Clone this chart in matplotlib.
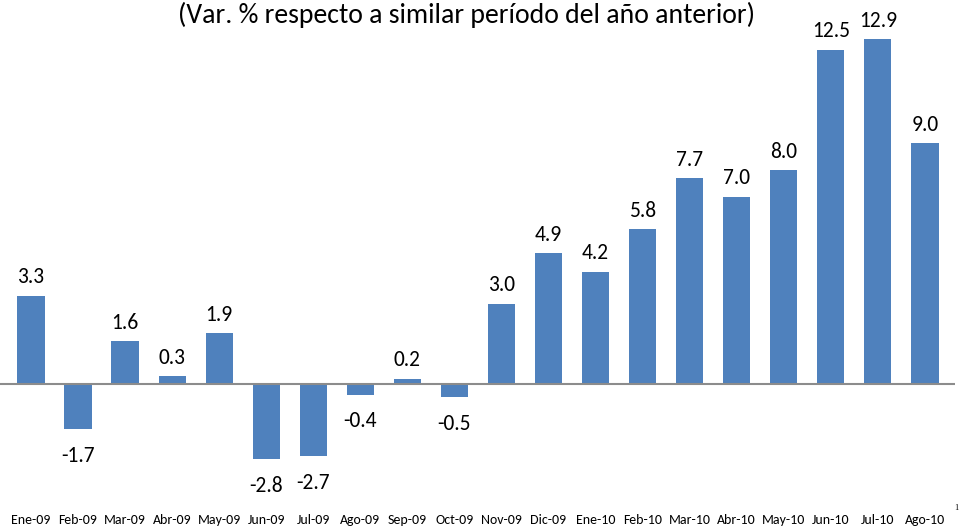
import matplotlib.pyplot as plt
from matplotlib import font_manager

meses = ['Ene-09', 'Feb-09', 'Mar-09', 'Abr-09', 'May-09', 'Jun-09', 'Jul-09',
         'Ago-09', 'Sep-09', 'Oct-09', 'Nov-09', 'Dic-09', 'Ene-10', 'Feb-10',
         'Mar-10', 'Abr-10', 'May-10', 'Jun-10', 'Jul-10', 'Ago-10']
variacion = [3.3, -1.7, 1.6, 0.3, 1.9, -2.8, -2.7, -0.4, 0.2, -0.5,
             3.0, 4.9, 4.2, 5.8, 7.7, 7.0, 8.0, 12.5, 12.9, 9.0]
titulo = '(Var. % respecto a similar período del año anterior)'

names = {f.name for f in font_manager.fontManager.ttflist}
fuente = 'Carlito' if 'Carlito' in names else 'Lato'
plt.rcParams['font.family'] = [fuente, 'DejaVu Sans']

fig = plt.figure(figsize=(9.59, 5.30), dpi=100)
ax = fig.add_axes([0, 0, 955 / 959, 1])
x = range(len(meses))
ax.bar(x, variacion, width=0.58, color='#4F81BD', zorder=2)
ax.axhline(0, color='#8c8c8c', lw=1.5, zorder=3)
ax.set_xlim(-0.659, 19.64)
ax.set_ylim(-5.46, 14.36)
ax.axis('off')

for i, v in enumerate(variacion):
    if v >= 0:
        ax.annotate(f'{v:.1f}', (i, v), xytext=(0, 6), textcoords='offset points',
                    ha='center', va='bottom', fontsize=15.5)
    else:
        ax.annotate(f'{v:.1f}', (i, v), xytext=(0, -12), textcoords='offset points',
                    ha='center', va='top', fontsize=15.5)

for i, m in enumerate(meses):
    ax.text(i, -5.09, m, ha='center', va='center', fontsize=10)

fig.text(466 / 959, 1 - 15 / 530, titulo, ha='center', va='center', fontsize=20)
fig.text(956 / 959, 1 - 508 / 530, '1', ha='center', va='center', fontsize=6,
         family='Liberation Serif')

fig.savefig('out.png', dpi=100)
